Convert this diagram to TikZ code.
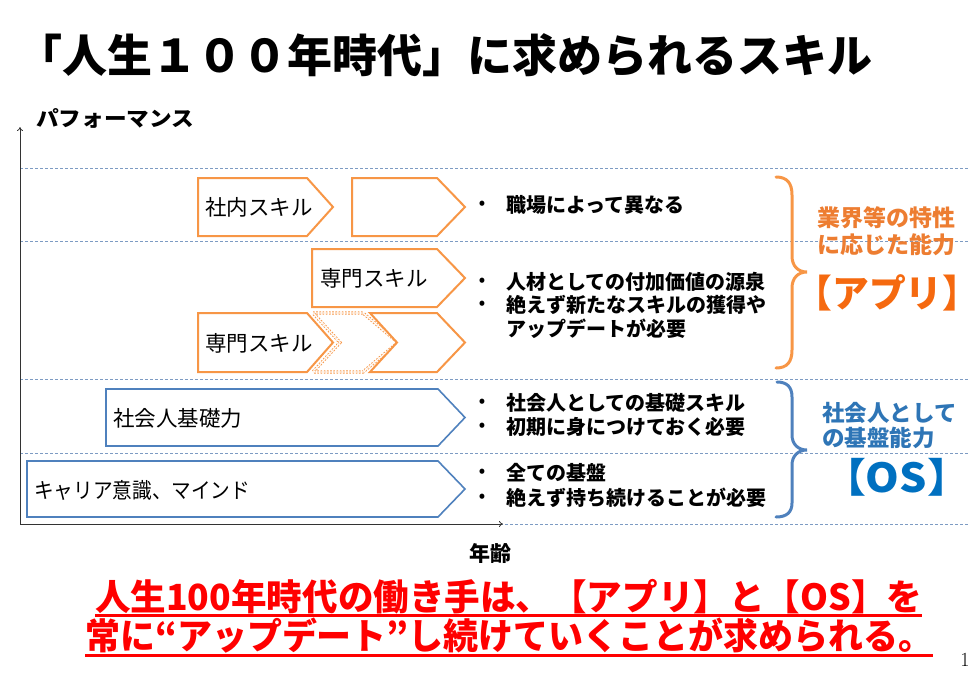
\documentclass[tikz,border=0pt]{standalone}
\usepackage{fontspec}
\usepackage{graphicx}
\usetikzlibrary{arrows.meta}
\newfontfamily\jp{Noto Sans CJK JP}
\newcommand\fitw[2]{\resizebox{#1}{\height}{#2}}
\newcommand\fsz[1]{\fontsize{#1pt}{#1pt}\selectfont}
\newcommand\pentag[6]{\draw[#1] (#2,#5) -- (#3,#5) -- (#4,{(#5+#6)/2}) -- (#3,#6) -- (#2,#6) -- cycle;}
\newcommand\chevr[7]{\draw[#1] (#2,#6) -- (#3,#6) -- (#4,{(#6+#7)/2}) -- (#3,#7) -- (#2,#7) -- (#5,{(#6+#7)/2}) -- cycle;}
\definecolor{gridc}{RGB}{125,155,195}
\definecolor{orng}{RGB}{247,150,70}
\definecolor{blu}{RGB}{79,129,189}
\definecolor{olab}{RGB}{237,125,49}
\definecolor{oapp}{RGB}{245,105,15}
\definecolor{blab}{RGB}{46,117,182}
\definecolor{bos}{RGB}{0,112,192}
\definecolor{redt}{RGB}{255,0,0}
\tikzset{
  gridline/.style={draw=gridc, line width=0.8pt, dash pattern=on 3pt off 2pt},
  axisline/.style={draw=black!80, line width=0.8pt},
  oshape/.style={draw=orng, line width=2pt, fill=white, line join=miter},
  odot/.style={draw=orng, line width=0.9pt, double=white, double distance=1.4pt, dash pattern=on 1.6pt off 1.6pt, fill=white},
  bshape/.style={draw=blu, line width=1.6pt, fill=white},
  intext/.style={anchor=west, inner sep=0pt, font=\jp\fsz{21.5}},
  bultext/.style={anchor=west, inner sep=0pt, font=\jp\bfseries\fsz{20}},
  bulmark/.style={inner sep=0pt, font=\jp\bfseries\fsz{16}},
  obrace/.style={draw=orng, line width=3pt, line cap=round},
  bbrace/.style={draw=blu, line width=3pt, line cap=round},
  olabel/.style={anchor=west, inner sep=0pt, text=olab, font=\jp\bfseries\fsz{23}},
  blabel/.style={anchor=west, inner sep=0pt, text=blab, font=\jp\bfseries\fsz{22.5}},
  redtext/.style={anchor=west, inner sep=0pt, text=redt, font=\jp\bfseries\fsz{36}},
  uline/.style={draw=redt, line width=3pt},
}
\begin{document}
\begin{tikzpicture}[x=1pt,y=-1pt]
\useasboundingbox (0,0) rectangle (980,678);
% title
\node[anchor=west, inner sep=0pt, font=\jp\bfseries\fsz{45}] (title) at (17,55) {「人生１００年時代」に求められるスキル};
% grid lines
\foreach \yy in {168,241,379,453,524} \draw[gridline] (20,\yy) -- (968,\yy);
% axes
\coordinate (O) at (20,524);
\coordinate (ytop) at (20,127);
\coordinate (xend) at (503,524);
\draw[axisline,-{To[length=4pt,width=6pt]}] (O) -- (ytop);
\draw[axisline,-{To[length=4pt,width=6pt]}] (O) -- (xend);
\node[anchor=west, inner sep=0pt, font=\jp\bfseries\fsz{21}] (perf) at (36,118) {\fitw{158pt}{パフォーマンス}};
\node[inner sep=0pt, font=\jp\bfseries\fsz{21}] (age) at (490,553) {年齢};
% orange shapes
\pentag{oshape}{198}{307}{333}{178}{236}
\pentag{oshape}{352}{437}{465}{178}{236}
\pentag{oshape}{312}{437}{465}{249}{307}
\pentag{oshape}{198}{307}{333}{313}{372}
\chevr{odot}{313}{363}{398}{340}{313}{372}
\chevr{oshape}{370}{437}{465}{397}{313}{372}
% blue shapes
\pentag{bshape}{106}{438}{465}{389}{446}
\pentag{bshape}{27}{438}{465}{461}{517}
% shape texts
\node[intext] (s1) at (205,207) {社内スキル};
\node[intext] (s2) at (320,278) {専門スキル};
\node[intext] (s3) at (205,343) {専門スキル};
\node[intext] (s4) at (113,418) {社会人基礎力};
\node[intext] (s5) at (34,490) {\fitw{216pt}{キャリア意識、マインド}};
% bullets
\foreach \yy/\nm in {205/b1,282/b2,305/b3,403/b4,427/b5,473/b6,498/b7}
  \node[bulmark] (\nm) at (482,\yy) {•};
\node[bultext] (t1) at (506,205) {職場によって異なる};
\node[bultext] (t2) at (506,282) {人材としての付加価値の源泉};
\node[bultext] (t3) at (506,305) {絶えず新たなスキルの獲得や};
\node[bultext] (t3b) at (506,329) {アップデートが必要};
\node[bultext] (t4) at (506,403) {社会人としての基礎スキル};
\node[bultext] (t5) at (506,427) {初期に身につけておく必要};
\node[bultext] (t6) at (506,473) {全ての基盤};
\node[bultext] (t7) at (506,498) {絶えず持ち続けることが必要};
% braces
\draw[obrace] (776,177) .. controls (787,177) and (792,183) .. (792,195) -- (792,256) .. controls (792,266) and (798,272) .. (807,272) .. controls (798,272) and (792,278) .. (792,288) -- (792,350) .. controls (792,362) and (787,368) .. (776,368);
\draw[bbrace] (777,382) .. controls (787,382) and (792,387) .. (792,397) -- (792,435) .. controls (792,444) and (798,450) .. (807,450) .. controls (798,450) and (792,456) .. (792,465) -- (792,503) .. controls (792,512) and (787,517) .. (776,517);
% right labels
\node[olabel] (l1) at (817,218) {業界等の特性};
\node[olabel] (l2) at (817,245) {に応じた能力};
\node[inner sep=0pt, text=oapp, font=\jp\bfseries\fsz{38}] (app) at (887.5,293) {\fitw{184pt}{【アプリ】}};
\node[blabel] (l3) at (822,413) {社会人として};
\node[blabel] (l4) at (822,438) {の基盤能力};
\node[inner sep=0pt, text=bos, font=\jp\bfseries\fsz{40}] (os) at (896.5,477) {\fitw{147pt}{【OS】}};
% red message
\node[redtext] (r1) at (95,597) {\fitw{827pt}{人生100年時代の働き手は、【アプリ】と【OS】を}};
\node[redtext] (r2) at (85,636) {\fitw{848pt}{常に“アップデート”し続けていくことが求められる。}};
\draw[uline] (95,615) -- (922,615);
\draw[uline] (85,655) -- (933,655);
% page number
\node[inner sep=0pt, font=\fsz{20}] (pg) at (965,660) {1};
\end{tikzpicture}
\end{document}
